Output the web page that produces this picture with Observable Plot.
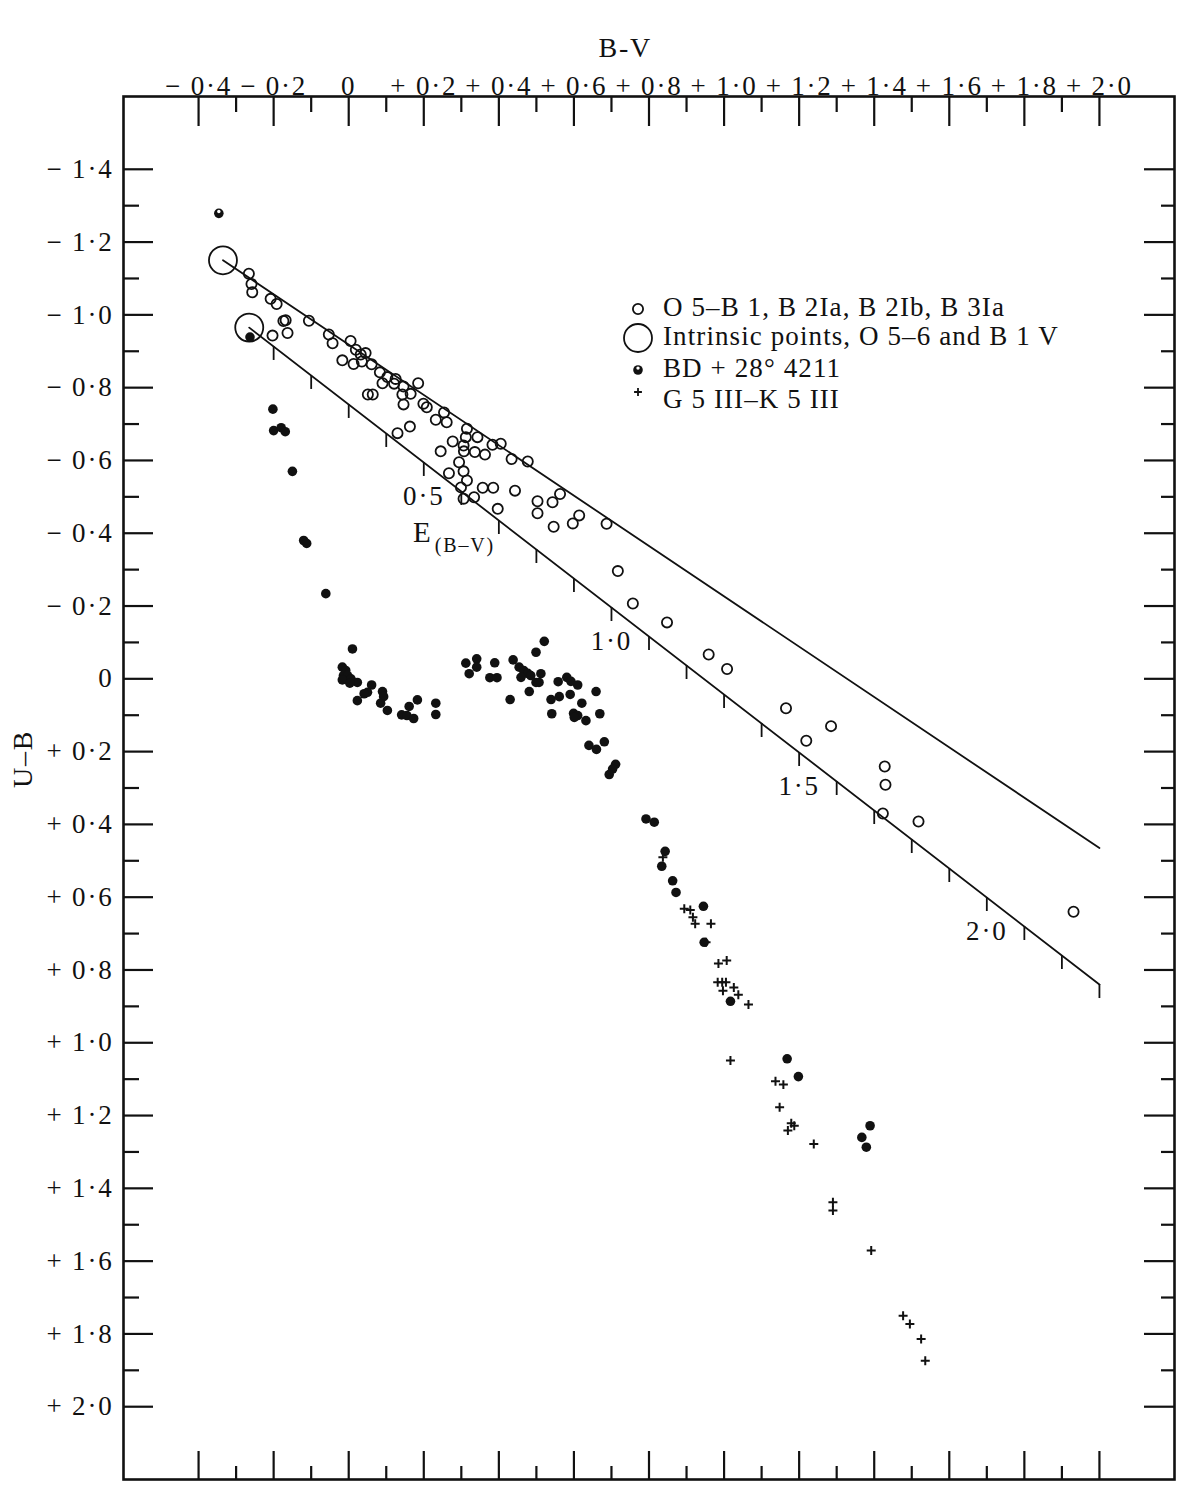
<!DOCTYPE html>
<html>
<head>
<meta charset="utf-8">
<script src="https://cdn.jsdelivr.net/npm/d3@7"></script>
<script src="https://cdn.jsdelivr.net/npm/@observablehq/plot@0.6"></script>
<style>
  html, body { margin: 0; padding: 0; background: #fff; }
  #chart { position: relative; width: 1200px; height: 1496px; }
</style>
</head>
<body>
<div id="chart"></div>
<script>
// ---------- axis ticks ----------
const xMajorTicks = [-0.4, -0.2, 0, 0.2, 0.4, 0.6, 0.8, 1.0, 1.2, 1.4, 1.6, 1.8, 2.0];
const xMinorTicks = [-0.3, -0.1, 0.1, 0.3, 0.5, 0.7, 0.9, 1.1, 1.3, 1.5, 1.7, 1.9];
const yMajorTicks = [-1.4, -1.2, -1.0, -0.8, -0.6, -0.4, -0.2, 0, 0.2, 0.4, 0.6, 0.8, 1.0, 1.2, 1.4, 1.6, 1.8, 2.0];
const yMinorTicks = [-1.3, -1.1, -0.9, -0.7, -0.5, -0.3, -0.1, 0.1, 0.3, 0.5, 0.7, 0.9, 1.1, 1.3, 1.5, 1.7, 1.9];

// ---------- O5–B1, B2Ia, B2Ib, B3Ia (open circles) ----------
const obBV = [-0.266,-0.259,-0.257,-0.208,-0.192,-0.174,-0.168,-0.163,-0.203,-0.106,
  -0.053,-0.043,0.005,0.019,0.032,0.045,-0.017,0.013,0.035,0.061,
  0.083,0.103,0.125,0.090,0.121,0.146,0.185,0.165,0.143,0.051,
  0.064,0.146,0.199,0.208,0.254,0.232,0.261,0.163,0.130,0.315,
  0.343,0.312,0.277,0.383,0.405,0.306,0.245,0.307,0.336,0.363,
  0.434,0.477,0.294,0.306,0.267,0.315,0.299,0.357,0.385,0.443,
  0.306,0.334,0.397,0.503,0.543,0.563,0.503,0.546,0.597,0.614,
  0.687,0.717,0.757,0.848,0.959,1.008,1.165,1.285,1.219,1.428,
  1.430,1.423,1.518,1.931];
const obUB = [-1.113,-1.085,-1.062,-1.044,-1.030,-0.983,-0.985,-0.950,-0.943,-0.984,
  -0.946,-0.922,-0.928,-0.904,-0.891,-0.895,-0.875,-0.865,-0.872,-0.864,
  -0.842,-0.829,-0.824,-0.812,-0.811,-0.803,-0.812,-0.783,-0.781,-0.781,
  -0.781,-0.754,-0.756,-0.746,-0.732,-0.712,-0.705,-0.693,-0.675,-0.687,
  -0.664,-0.664,-0.652,-0.643,-0.646,-0.641,-0.625,-0.625,-0.623,-0.616,
  -0.604,-0.597,-0.595,-0.570,-0.565,-0.545,-0.526,-0.525,-0.525,-0.517,
  -0.495,-0.499,-0.467,-0.488,-0.485,-0.508,-0.455,-0.418,-0.427,-0.449,
  -0.426,-0.296,-0.207,-0.155,-0.067,-0.027,0.081,0.130,0.170,0.241,
  0.291,0.370,0.392,0.640];

// ---------- intrinsic points, O5–6 and B1 V (large circles) ----------
const intrinsicBV = [-0.335, -0.265];
const intrinsicUB = [-1.150, -0.965];

// ---------- BD +28° 4211 (filled dots) ----------
const bdBV = [-0.346,-0.263,-0.202,-0.200,-0.180,-0.169,-0.150,-0.120,-0.112,-0.061,
  0.010,-0.017,-0.008,-0.014,-0.003,0.006,-0.017,0.023,0.003,0.061,
  0.050,0.041,0.090,0.093,0.023,0.085,0.103,0.141,0.155,0.161,
  0.183,0.173,0.232,0.232,0.312,0.321,0.341,0.341,0.389,0.376,
  0.395,0.438,0.430,0.499,0.521,0.454,0.466,0.477,0.459,0.485,
  0.512,0.507,0.499,0.481,0.558,0.581,0.592,0.610,0.539,0.561,
  0.590,0.659,0.621,0.541,0.599,0.610,0.601,0.632,0.669,0.640,
  0.660,0.681,0.711,0.703,0.694,0.792,0.814,0.843,0.834,0.863,
  0.872,0.945,0.947,1.017,1.168,1.198,1.389,1.367,1.379];
const bdUB = [-1.279,-0.939,-0.741,-0.682,-0.690,-0.679,-0.570,-0.380,-0.372,-0.234,
  -0.082,-0.032,-0.023,-0.009,-0.009,0.000,0.003,0.010,0.012,0.017,
  0.037,0.041,0.035,0.049,0.060,0.067,0.087,0.099,0.101,0.076,
  0.058,0.109,0.067,0.098,-0.043,-0.014,-0.055,-0.032,-0.044,-0.003,
  -0.003,-0.052,0.057,-0.073,-0.103,-0.032,-0.023,-0.015,-0.004,-0.009,
  -0.014,0.010,0.010,0.035,0.008,-0.004,0.007,0.017,0.057,0.049,
  0.043,0.035,0.067,0.096,0.095,0.101,0.106,0.115,0.096,0.183,
  0.194,0.173,0.235,0.248,0.263,0.385,0.394,0.474,0.515,0.555,
  0.587,0.625,0.724,0.886,1.044,1.093,1.228,1.260,1.287];

// ---------- G5 III–K5 III (plus signs) ----------
const gkBV = [0.837,0.894,0.910,0.917,0.923,0.965,0.952,0.985,1.007,0.983,
  0.995,1.005,0.997,1.026,1.038,1.065,1.017,1.137,1.158,1.148,
  1.179,1.187,1.170,1.239,1.290,1.290,1.392,1.477,1.495,1.525,1.536];
const gkUB = [0.490,0.632,0.635,0.655,0.673,0.673,0.724,0.782,0.774,0.834,
  0.834,0.834,0.857,0.848,0.868,0.895,1.049,1.106,1.115,1.177,
  1.221,1.228,1.241,1.278,1.438,1.461,1.571,1.750,1.773,1.814,1.874];

// ---------- reddening lines ----------
const upperLineBV = [-0.335, 2.0];
const upperLineUB = [-1.150, 0.465];
const lowerLineBV = [-0.265, 2.0];
const lowerLineUB = [-0.965, 0.840];

// ---------- E(B-V) scale along the lower line ----------
const ebvZeroBV = -0.30;
const ebvTicks = [0.1,0.2,0.3,0.4,0.5,0.6,0.7,0.8,0.9,1.0,1.1,1.2,1.3,1.4,1.5,1.6,1.7,1.8,1.9,2.0,2.1,2.2,2.3];
const ebvLabels = [0.5, 1.0, 1.5, 2.0];

// ---------- legend ----------
const legendLabels = [
  "O 5–B 1, B 2Ia, B 2Ib, B 3Ia",
  "Intrinsic points, O 5–6 and B 1 V",
  "BD + 28° 4211",
  "G 5 III–K 5 III"
];

// ---------- build ----------
const zip = (a, b) => a.map((v, i) => ({bv: v, ub: b[i]}));
const ob = zip(obBV, obUB);
const intrinsic = zip(intrinsicBV, intrinsicUB);
const bd = zip(bdBV, bdUB);
const gk = zip(gkBV, gkUB);
const upperLine = zip(upperLineBV, upperLineUB);
const lowerLine = zip(lowerLineBV, lowerLineUB);
const lowerSlope = (lowerLineUB[1] - lowerLineUB[0]) / (lowerLineBV[1] - lowerLineBV[0]);
const onLower = bv => lowerLineUB[0] + (bv - lowerLineBV[0]) * lowerSlope;
const ebvTickData = ebvTicks.map(e => ({bv: ebvZeroBV + e, ub: onLower(ebvZeroBV + e)}));
const ebvLabelData = ebvLabels.map(e => ({bv: ebvZeroBV + e, ub: onLower(ebvZeroBV + e), e}));
const ebvTitleData = [ebvLabelData[0]];

const W = 1200, H = 1496, mL = 123, mR = 26, mT = 96, mB = 17;
const FW = W - mL - mR, FH = H - mT - mB;
const INK = "#111";
const SERIF = "'Liberation Serif', 'Times New Roman', serif";

const fmtAxis = v => {
  if (Math.abs(v) < 1e-9) return "0";
  return (v < 0 ? "−" : "+") + " " + Math.abs(v).toFixed(1).replace(".", "·");
};
const fmtE = v => v.toFixed(1).replace(".", "·");

const svg = Plot.plot({
  width: W, height: H,
  marginLeft: mL, marginRight: mR, marginTop: mT, marginBottom: mB,
  style: {fontFamily: SERIF, fontSize: "27px", background: "#fff", color: INK, letterSpacing: "1.8px"},
  x: {domain: [-0.6, 2.2], axis: null},
  y: {domain: [-1.6, 2.2], reverse: true, axis: null},
  marks: [
    Plot.frame({stroke: INK, strokeWidth: 2.6}),
    // top / bottom ticks
    Plot.tickX(xMajorTicks, {x: d => d, insetBottom: FH - 30, stroke: INK, strokeWidth: 2.2}),
    Plot.tickX(xMinorTicks, {x: d => d, insetBottom: FH - 16, stroke: INK, strokeWidth: 2.2}),
    Plot.tickX(xMajorTicks, {x: d => d, insetTop: FH - 28, stroke: INK, strokeWidth: 2.2}),
    Plot.tickX(xMinorTicks, {x: d => d, insetTop: FH - 13, stroke: INK, strokeWidth: 2.2}),
    // left / right ticks
    Plot.tickY(yMajorTicks, {y: d => d, insetRight: FW - 30, stroke: INK, strokeWidth: 2.2}),
    Plot.tickY(yMinorTicks, {y: d => d, insetRight: FW - 16, stroke: INK, strokeWidth: 2.2}),
    Plot.tickY(yMajorTicks, {y: d => d, insetLeft: FW - 30, stroke: INK, strokeWidth: 2.2}),
    Plot.tickY(yMinorTicks, {y: d => d, insetLeft: FW - 13, stroke: INK, strokeWidth: 2.2}),
    // tick labels
    Plot.text(xMajorTicks, {x: d => d, text: fmtAxis, frameAnchor: "top", dy: -21, fontSize: 27, fill: INK}),
    Plot.text(yMajorTicks, {y: d => d, text: fmtAxis, frameAnchor: "left", dx: -10, textAnchor: "end", fontSize: 27, fill: INK}),
    // axis titles
    Plot.text(["B-V"], {text: d => d, frameAnchor: "top-left", dx: 475, dy: -59, fontSize: 28, fill: INK}),
    Plot.text(["U–B"], {text: d => d, frameAnchor: "left", dx: -100, rotate: -90, fontSize: 28, fill: INK}),
    // reddening lines
    Plot.line(upperLine, {x: "bv", y: "ub", stroke: INK, strokeWidth: 1.8}),
    Plot.line(lowerLine, {x: "bv", y: "ub", stroke: INK, strokeWidth: 1.8}),
    // E(B-V) ticks and labels
    Plot.ruleX(ebvTickData, {x: "bv", y1: "ub", y2: "ub", insetBottom: -14, stroke: INK, strokeWidth: 1.8}),
    Plot.text(ebvLabelData, {x: "bv", y: "ub", text: d => fmtE(d.e), dy: 34, fontSize: 27, fill: INK}),
    Plot.text(ebvTitleData, {x: "bv", y: "ub", text: () => "E", dx: -1, dy: 70, fontSize: 29, fill: INK}),
    Plot.text(ebvTitleData, {x: "bv", y: "ub", text: () => "(B–V)", dx: 11, dy: 83, textAnchor: "start", fontSize: 20, fill: INK}),
    // data
    Plot.dot(intrinsic, {x: "bv", y: "ub", r: 14, stroke: INK, strokeWidth: 1.8, fill: "none"}),
    Plot.dot(ob, {x: "bv", y: "ub", r: 5.1, stroke: INK, strokeWidth: 1.8, fill: "none"}),
    Plot.dot(bd, {x: "bv", y: "ub", r: 4.8, fill: INK, stroke: "none"}),
    Plot.dot([bd[0]], {x: "bv", y: "ub", r: 1.7, dy: -1.9, fill: "#fff", stroke: "none"}),
    Plot.dot(gk, {x: "bv", y: "ub", symbol: "plus", r: 3, stroke: INK, strokeWidth: 2})
  ]
});

// legend inside the frame
const leg = d3.select(svg).append("g")
  .attr("font-family", SERIF).attr("font-size", 27).attr("fill", INK)
  .attr("text-anchor", "start")
  .style("letter-spacing", "1.1px");
const legSymX = 638, legTextX = 663;
const legSymY = [309, 338, 370, 392];
const legBase = [316, 345, 377, 408];
legendLabels.forEach((t, i) => {
  leg.append("text").attr("x", legTextX).attr("y", legBase[i]).attr("text-anchor", "start").text(t);
});
leg.append("circle").attr("cx", legSymX).attr("cy", legSymY[0]).attr("r", 5.1)
  .attr("fill", "none").attr("stroke", INK).attr("stroke-width", 1.8);
leg.append("circle").attr("cx", legSymX).attr("cy", legSymY[1]).attr("r", 14)
  .attr("fill", "none").attr("stroke", INK).attr("stroke-width", 1.8);
leg.append("circle").attr("cx", legSymX).attr("cy", legSymY[2]).attr("r", 4.8).attr("fill", INK);
leg.append("circle").attr("cx", legSymX).attr("cy", legSymY[2] - 1.9).attr("r", 1.7).attr("fill", "#fff");
leg.append("path").attr("d", d3.symbol(d3.symbolPlus, 22)())
  .attr("transform", `translate(${legSymX},${legSymY[3]})`)
  .attr("fill", "none").attr("stroke", INK).attr("stroke-width", 1.8);

document.getElementById("chart").appendChild(svg);
</script>
</body>
</html>
